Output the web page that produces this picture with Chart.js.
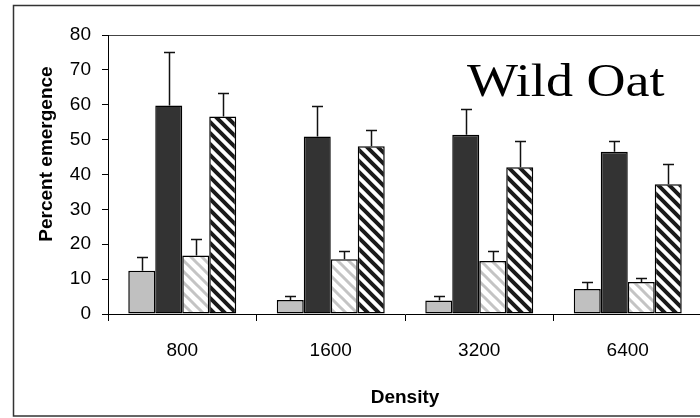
<!DOCTYPE html>
<html>
<head>
<meta charset="utf-8">
<title>Wild Oat</title>
<script src="https://cdn.jsdelivr.net/npm/chart.js@4/dist/chart.umd.min.js"></script>
<style>
  html, body { margin: 0; padding: 0; background: #fff; overflow: hidden; }
  #wrap { position: relative; width: 730px; height: 418px; }
</style>
</head>
<body>
<div id="wrap"><canvas id="emergenceChart"></canvas></div>
<script>
// ---------------- DATA ----------------
const densities = ["800", "1600", "3200", "6400"];
const yTicks = [0, 10, 20, 30, 40, 50, 60, 70, 80];

// mean emergence (%) and upper error per density
const greyMeans = [12.4, 4.0, 3.9, 7.2];
const greyErr = [4.0, 1.3, 1.4, 2.0];
const darkMeans = [59.8, 50.9, 51.4, 46.5];
const darkErr = [15.3, 8.8, 7.5, 3.2];
const lightStripeMeans = [16.8, 15.7, 15.2, 9.2];
const lightStripeErr = [4.8, 2.4, 2.9, 1.2];
const darkStripeMeans = [56.6, 48.1, 42.1, 37.2];
const darkStripeErr = [6.8, 4.8, 7.6, 5.7];

const canvas = document.getElementById("emergenceChart");
const mainCtx = canvas.getContext("2d");

// diagonal "\" stripes on white
function stripes(color, width) {
  const s = 11;
  const tile = document.createElement("canvas");
  tile.width = s;
  tile.height = s;
  const g = tile.getContext("2d");
  g.fillStyle = "#fff";
  g.fillRect(0, 0, s, s);
  g.strokeStyle = color;
  g.lineWidth = width;
  g.beginPath();
  for (let k = -1; k <= 1; k++) {
    g.moveTo(-2, -2 + k * s);
    g.lineTo(s + 2, s + 2 + k * s);
  }
  g.stroke();
  return mainCtx.createPattern(tile, "repeat");
}

Chart.defaults.color = "#000";
Chart.defaults.font.family = "'Liberation Sans', Arial, sans-serif";

// upward error bars with a cap
const errorBars = {
  id: "errorBars",
  afterDatasetsDraw(chart) {
    const ctx = chart.ctx;
    const y = chart.scales.y;
    ctx.save();
    ctx.strokeStyle = "#111";
    ctx.lineWidth = 1.5;
    chart.data.datasets.forEach((ds, i) => {
      chart.getDatasetMeta(i).data.forEach((bar, j) => {
        const x = Math.round(bar.x) + 0.5;
        const yBar = y.getPixelForValue(ds.data[j]);
        const yTop = Math.round(y.getPixelForValue(ds.data[j] + ds.errors[j])) + 0.5;
        ctx.beginPath();
        ctx.moveTo(x, yBar);
        ctx.lineTo(x, yTop);
        ctx.moveTo(x - 5.5, yTop);
        ctx.lineTo(x + 5.5, yTop);
        ctx.stroke();
      });
    });
    ctx.restore();
  }
};

// outer frame, plot box top, axis titles and the big label
const decorations = {
  id: "decorations",
  beforeDraw(chart) {
    const ctx = chart.ctx;
    const area = chart.chartArea;
    ctx.save();
    ctx.strokeStyle = "#333";
    ctx.lineWidth = 1.5;
    ctx.strokeRect(13.5, 5.5, 712, 410.5);
    ctx.lineWidth = 1;
    ctx.strokeStyle = "#444";
    ctx.beginPath();
    ctx.moveTo(area.left, Math.round(area.top) + 0.5);
    ctx.lineTo(area.right, Math.round(area.top) + 0.5);
    ctx.lineTo(area.right, area.bottom);
    ctx.stroke();
    ctx.restore();
  },
  afterDraw(chart) {
    const ctx = chart.ctx;
    ctx.save();
    ctx.fillStyle = "#000";
    ctx.font = "bold 19px 'Liberation Sans', Arial, sans-serif";
    ctx.textAlign = "center";
    ctx.textBaseline = "alphabetic";
    ctx.fillText("Density", 405, 403);

    ctx.save();
    ctx.translate(52, 154);
    ctx.rotate(-Math.PI / 2);
    ctx.fillText("Percent emergence", 0, 0);
    ctx.restore();

    ctx.translate(467, 96);
    ctx.scale(1.15, 1);
    ctx.font = "47px 'Liberation Serif', 'Times New Roman', serif";
    ctx.textAlign = "left";
    ctx.fillText("Wild Oat", 0, 0);
    ctx.restore();
  }
};

new Chart(mainCtx, {
  type: "bar",
  data: {
    labels: densities,
    datasets: [
      { label: "A", data: greyMeans, errors: greyErr, backgroundColor: "#c0c0c0" },
      { label: "B", data: darkMeans, errors: darkErr, backgroundColor: "#333333" },
      { label: "C", data: lightStripeMeans, errors: lightStripeErr, backgroundColor: stripes("#c4c4c4", 3) },
      { label: "D", data: darkStripeMeans, errors: darkStripeErr, backgroundColor: stripes("#1a1a1a", 4) }
    ].map(ds => Object.assign(ds, {
      borderColor: "#000",
      borderWidth: 1.5,
      borderSkipped: false,
      categoryPercentage: 0.727,
      barPercentage: 1
    }))
  },
  options: {
    responsive: true,
    maintainAspectRatio: false,
    animation: false,
    layout: { padding: { top: 35, right: 28, left: 0, bottom: 0 } },
    plugins: {
      legend: { display: false },
      tooltip: { enabled: false }
    },
    scales: {
      x: {
        grid: { drawOnChartArea: false, offset: true, tickLength: 7, color: "#000" },
        border: { color: "#000", width: 1 },
        ticks: { font: { size: 19 }, padding: 18 },
        afterFit: scale => { scale.height = 104; }
      },
      y: {
        min: 0,
        max: 80,
        afterBuildTicks: scale => { scale.ticks = yTicks.map(v => ({ value: v })); },
        grid: { drawOnChartArea: false, tickLength: 6, color: "#000" },
        border: { color: "#000", width: 1 },
        ticks: { font: { size: 19 }, padding: 11 },
        afterFit: scale => { scale.width = 108; }
      }
    }
  },
  plugins: [errorBars, decorations]
});
</script>
</body>
</html>
